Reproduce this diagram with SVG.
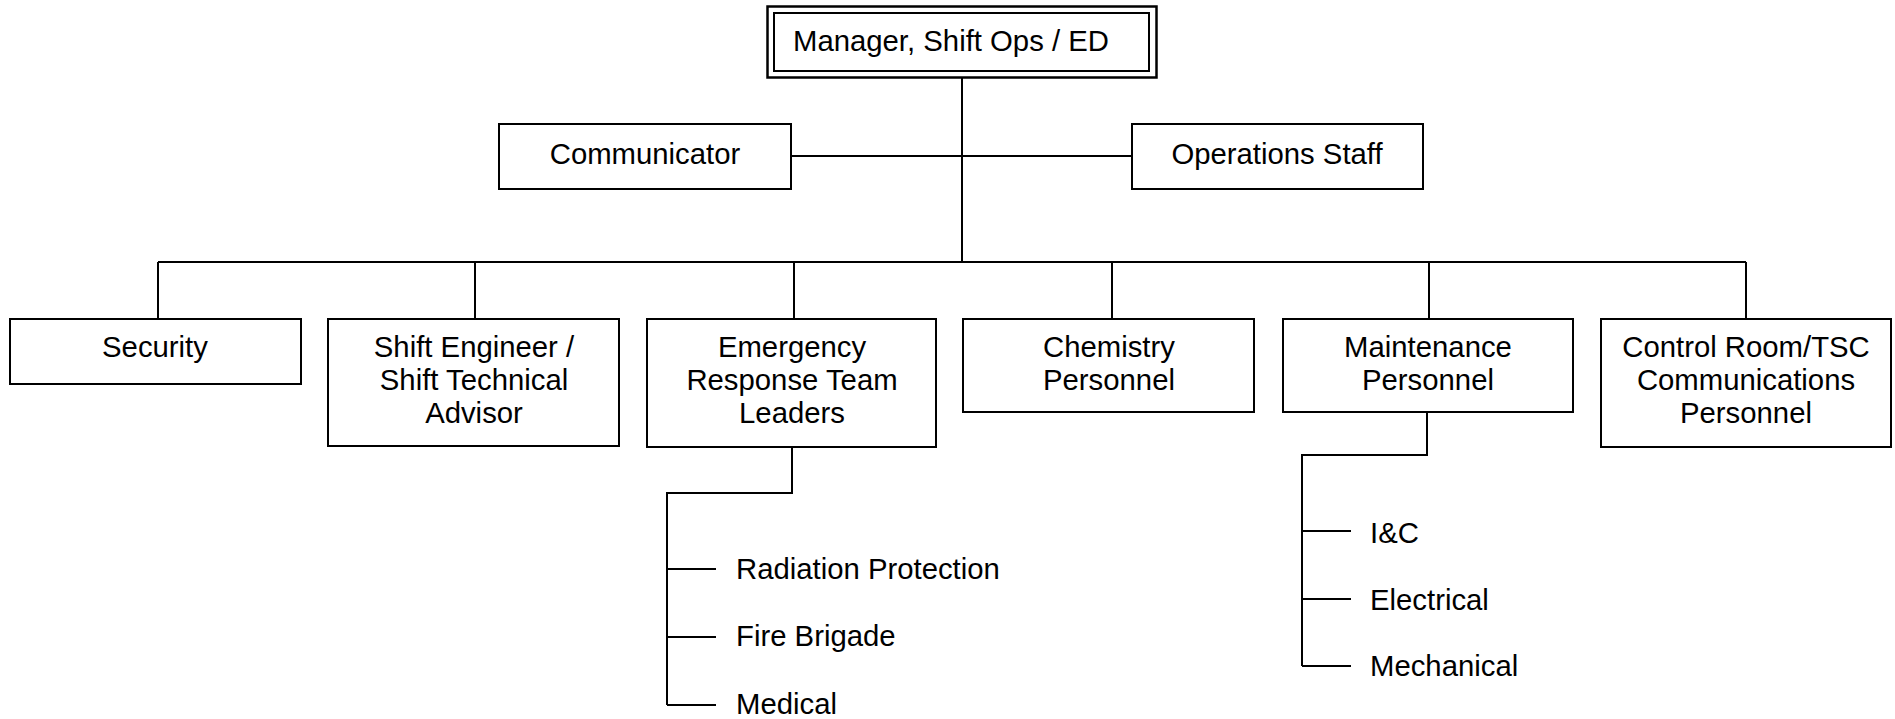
<svg xmlns="http://www.w3.org/2000/svg" width="1895" height="719" viewBox="0 0 1895 719">
<style>
.box{fill:#fff;stroke:#000;stroke-width:2}
.ln{fill:none;stroke:#000;stroke-width:2}
text{font-family:"Liberation Sans",Arial,sans-serif;font-size:29.3px;fill:#000}
.c{text-anchor:middle}
</style>
<rect width="1895" height="719" fill="#fff"/>
<g id="connectors">
<path class="ln" d="M962 77V262"/>
<path class="ln" d="M791 156H1132"/>
<path class="ln" d="M158 262H1746"/>
<path class="ln" d="M158 262V319M475 262V319M794 262V319M1112 262V319M1429 262V319M1746 262V319"/>
<path class="ln" d="M792 447V493H667V705"/>
<path class="ln" d="M667 569H716M667 637H716M667 705H716"/>
<path class="ln" d="M1427 412V455H1302V666"/>
<path class="ln" d="M1302 531H1351M1302 599H1351M1302 666H1351"/>
</g>
<g id="manager">
<rect x="767.5" y="6.5" width="389" height="71" fill="#fff" stroke="#000" stroke-width="2.5"/>
<rect x="774" y="13" width="375" height="58" fill="none" stroke="#000" stroke-width="2"/>
<text x="793" y="51">Manager, Shift Ops / ED</text>
</g>
<g id="communicator">
<rect class="box" x="499" y="124" width="292" height="65"/>
<text class="c" x="645" y="164">Communicator</text>
</g>
<g id="operations">
<rect class="box" x="1132" y="124" width="291" height="65"/>
<text class="c" x="1277" y="164">Operations Staff</text>
</g>
<g id="security">
<rect class="box" x="10" y="319" width="291" height="65"/>
<text class="c" x="155" y="357">Security</text>
</g>
<g id="shift-engineer">
<rect class="box" x="328" y="319" width="291" height="127"/>
<text class="c" x="474" y="357">Shift Engineer /</text>
<text class="c" x="474" y="390">Shift Technical</text>
<text class="c" x="474" y="423">Advisor</text>
</g>
<g id="ert">
<rect class="box" x="647" y="319" width="289" height="128"/>
<text class="c" x="792" y="357">Emergency</text>
<text class="c" x="792" y="390">Response Team</text>
<text class="c" x="792" y="423">Leaders</text>
</g>
<g id="chemistry">
<rect class="box" x="963" y="319" width="291" height="93"/>
<text class="c" x="1109" y="357">Chemistry</text>
<text class="c" x="1109" y="390">Personnel</text>
</g>
<g id="maintenance">
<rect class="box" x="1283" y="319" width="290" height="93"/>
<text class="c" x="1428" y="357">Maintenance</text>
<text class="c" x="1428" y="390">Personnel</text>
</g>
<g id="control-room">
<rect class="box" x="1601" y="319" width="290" height="128"/>
<text class="c" x="1746" y="357">Control Room/TSC</text>
<text class="c" x="1746" y="390">Communications</text>
<text class="c" x="1746" y="423">Personnel</text>
</g>
<g id="radiation"><text x="736" y="579">Radiation Protection</text></g>
<g id="fire"><text x="736" y="646">Fire Brigade</text></g>
<g id="medical"><text x="736" y="714">Medical</text></g>
<g id="ic"><text x="1370" y="543">I&amp;C</text></g>
<g id="electrical"><text x="1370" y="610">Electrical</text></g>
<g id="mechanical"><text x="1370" y="676">Mechanical</text></g>
</svg>
